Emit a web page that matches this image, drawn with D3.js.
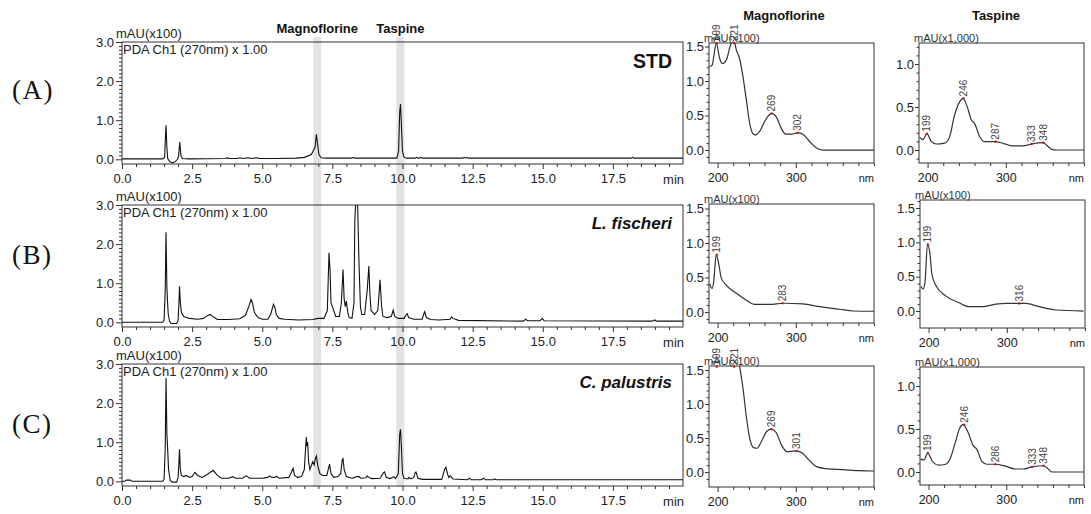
<!DOCTYPE html>
<html><head><meta charset="utf-8">
<script src="https://cdn.jsdelivr.net/npm/d3@7"></script>
<style>body{margin:0;background:#fff}svg{display:block}</style>
</head><body>
<svg id="c" width="1091" height="514"></svg>
<script>
// ---------------- DATA ----------------
const chromTicks = [0, 2.5, 5, 7.5, 10, 12.5, 15, 17.5];
const chromYTicks = [0, 1, 2, 3];
const bandNames = ["Magnoflorine", "Taspine"];
const bandRanges = [[6.82, 7.1], [9.78, 10.07]];
const panelLetters = ["(A)", "(B)", "(C)"];
const sampleNames = ["STD", "L. fischeri", "C. palustris"];

const stdTrace = [[0,0.01],[1.45,0.01],[1.52,0.05],[1.55,0.6],[1.57,0.87],[1.6,0.3],[1.63,0.02],[1.7,-0.06],[1.8,-0.09],[1.9,-0.06],[1.98,0],[2.02,0.1],[2.06,0.44],[2.1,0.1],[2.15,0.02],[2.4,0.01],[3.7,0.02],[3.75,0.04],[3.8,0.02],[4.1,0.02],[4.2,0.04],[4.3,0.02],[4.5,0.04],[4.6,0.02],[4.8,0.04],[4.9,0.02],[5.5,0.02],[6.2,0.03],[6.5,0.05],[6.75,0.12],[6.88,0.3],[6.93,0.64],[6.97,0.4],[7.02,0.12],[7.1,0.04],[7.3,0.03],[8.2,0.03],[8.24,0.05],[8.3,0.03],[9.8,0.03],[9.86,0.2],[9.9,1.2],[9.93,1.41],[9.96,0.9],[10.0,0.2],[10.05,0.06],[10.15,0.03],[10.45,0.03],[10.5,0.05],[10.55,0.03],[10.6,0.03],[10.65,0.05],[10.7,0.03],[12.15,0.03],[12.2,0.05],[12.25,0.03],[12.3,0.05],[12.35,0.03],[18.15,0.03],[18.2,0.05],[18.25,0.03],[20,0.03]];

const fischeriTrace = [[0,0.0],[1.45,0.0],[1.5,0.05],[1.54,0.8],[1.57,2.3],[1.6,0.9],[1.62,0.56],[1.65,0.2],[1.7,0.02],[1.75,-0.03],[1.95,-0.03],[2.0,0.05],[2.03,0.5],[2.05,0.92],[2.08,0.5],[2.12,0.25],[2.2,0.15],[2.4,0.1],[2.7,0.08],[2.9,0.1],[3.05,0.17],[3.14,0.2],[3.25,0.14],[3.4,0.07],[3.8,0.07],[4.2,0.09],[4.4,0.18],[4.52,0.4],[4.6,0.58],[4.65,0.5],[4.72,0.25],[4.85,0.12],[5.0,0.08],[5.2,0.08],[5.3,0.2],[5.4,0.46],[5.45,0.38],[5.5,0.2],[5.6,0.1],[5.8,0.08],[6.3,0.06],[6.8,0.07],[7.0,0.1],[7.2,0.1],[7.32,0.3],[7.38,1.78],[7.42,1.3],[7.45,0.5],[7.5,0.4],[7.55,0.3],[7.62,0.15],[7.75,0.15],[7.82,0.5],[7.88,1.35],[7.92,0.6],[7.96,0.4],[8.0,0.54],[8.05,0.25],[8.1,0.12],[8.2,0.1],[8.27,0.5],[8.3,2.6],[8.34,3.2],[8.4,3.0],[8.45,1.5],[8.5,0.4],[8.55,0.2],[8.65,0.2],[8.74,0.8],[8.8,1.44],[8.84,0.7],[8.88,0.3],[8.95,0.25],[9.0,0.2],[9.12,0.3],[9.2,1.09],[9.25,0.45],[9.3,0.15],[9.45,0.12],[9.6,0.15],[9.67,0.31],[9.72,0.15],[9.85,0.1],[10.05,0.1],[10.12,0.18],[10.17,0.22],[10.22,0.12],[10.4,0.08],[10.7,0.08],[10.75,0.2],[10.79,0.27],[10.85,0.12],[11.0,0.07],[11.3,0.06],[11.7,0.08],[11.75,0.14],[11.8,0.1],[12.0,0.05],[14.3,0.03],[14.4,0.08],[14.45,0.04],[14.9,0.04],[14.99,0.1],[15.05,0.04],[18.9,0.03],[19.0,0.06],[19.05,0.03],[20,0.03]];

const palustrisTrace = [[0,0.0],[0.1,0.0],[0.15,0.03],[0.3,0.03],[0.35,0.0],[1.45,0.0],[1.5,0.05],[1.54,0.8],[1.57,2.64],[1.6,1.2],[1.62,0.95],[1.66,0.3],[1.72,0.02],[1.8,-0.02],[1.95,-0.02],[2.0,0.1],[2.03,0.5],[2.05,0.82],[2.08,0.3],[2.12,0.15],[2.2,0.12],[2.3,0.15],[2.4,0.1],[2.5,0.12],[2.6,0.23],[2.7,0.15],[2.85,0.1],[3.05,0.18],[3.25,0.28],[3.4,0.15],[3.55,0.08],[3.8,0.08],[3.95,0.12],[4.05,0.08],[4.3,0.08],[4.43,0.14],[4.55,0.08],[5.0,0.08],[5.2,0.1],[5.26,0.14],[5.35,0.1],[5.45,0.1],[5.5,0.13],[5.6,0.08],[5.95,0.1],[6.05,0.25],[6.1,0.33],[6.15,0.15],[6.25,0.1],[6.4,0.12],[6.5,0.3],[6.55,0.9],[6.57,1.13],[6.59,0.9],[6.62,1.0],[6.65,0.5],[6.7,0.3],[6.75,0.4],[6.8,0.5],[6.85,0.42],[6.9,0.6],[6.93,0.65],[6.98,0.4],[7.05,0.2],[7.15,0.15],[7.3,0.15],[7.37,0.35],[7.4,0.44],[7.45,0.2],[7.55,0.1],[7.7,0.12],[7.8,0.2],[7.85,0.55],[7.88,0.58],[7.92,0.3],[8.0,0.12],[8.2,0.08],[8.3,0.1],[8.36,0.12],[8.45,0.12],[8.5,0.08],[8.7,0.09],[8.74,0.14],[8.8,0.1],[8.9,0.07],[9.2,0.08],[9.32,0.22],[9.36,0.24],[9.42,0.1],[9.55,0.07],[9.65,0.1],[9.69,0.12],[9.75,0.07],[9.85,0.2],[9.9,1.2],[9.93,1.33],[9.96,0.9],[10.0,0.2],[10.05,0.08],[10.2,0.06],[10.23,0.1],[10.3,0.06],[10.4,0.1],[10.45,0.22],[10.48,0.24],[10.55,0.08],[10.7,0.05],[11.4,0.05],[11.5,0.3],[11.55,0.36],[11.6,0.2],[11.65,0.1],[11.7,0.14],[11.8,0.06],[12.3,0.04],[12.4,0.08],[12.45,0.04],[12.8,0.04],[12.9,0.08],[12.95,0.04],[13.25,0.04],[13.29,0.06],[13.35,0.04],[20,0.04]];

const specTitles = ["Magnoflorine", "Taspine"];
const specXTicks = [200, 300];

const magANm  = [189.7,193,198.3,202.6,206,211,217.5,221,224,228,232.5,236.8,241,245,248.7,253.8,260,268.8,275,281.6,287,294.5,303,309,318,326.5,335,400];
const magAVal = [1.21,1.23,1.55,1.33,1.25,1.30,1.55,1.58,1.45,1.33,1.06,0.72,0.39,0.24,0.22,0.27,0.41,0.53,0.48,0.31,0.23,0.23,0.25,0.23,0.12,0.03,0.0,0.0];
const magBNm  = [189.7,193,195,198.3,201.7,204.7,211,224,236.8,247,266.7,283.8,309,330.8,356,373.5,400];
const magBVal = [0.41,0.34,0.44,0.83,0.68,0.49,0.39,0.27,0.17,0.11,0.11,0.126,0.116,0.077,0.039,0.014,0.01];
const magCNm  = [189,200,210,220,228,232.5,236.8,241,246,250.4,256,263,268.8,275,281.6,288.8,298.7,307,315.8,326.5,339,360.7,382,400];
const magCVal = [1.8,2.0,1.9,2.0,1.57,1.23,0.81,0.50,0.36,0.35,0.45,0.60,0.63,0.58,0.40,0.30,0.31,0.29,0.19,0.08,0.05,0.035,0.02,0.015];
const tasANm  = [189.7,194,199,204.7,211,221.8,228,234.6,241,245.3,250.4,256,260,266.7,273,286,296.6,309,322,333,348,352,358.6,365,400];
const tasAVal = [0.15,0.12,0.19,0.10,0.07,0.08,0.15,0.41,0.56,0.60,0.51,0.35,0.31,0.155,0.097,0.097,0.078,0.047,0.047,0.07,0.085,0.058,0.008,0,0];
const tasBNm  = [190,193,195.5,198.5,201.7,204,209,221.9,239,251.8,268.8,285.9,300,314.9,324.4,341.5,362.8,398];
const tasBVal = [0.36,0.32,0.43,0.97,0.84,0.55,0.38,0.22,0.12,0.063,0.063,0.10,0.11,0.11,0.11,0.063,0.015,0];
const tasCNm  = [189.7,194,199,204.7,213,221.8,228,234.6,240,244.4,250.4,257.3,262.4,268.8,275,286,296.6,311.5,322,333,348,353,358.6,400];
const tasCVal = [0.15,0.14,0.22,0.128,0.08,0.09,0.16,0.35,0.51,0.55,0.47,0.31,0.26,0.12,0.09,0.09,0.075,0.035,0.035,0.06,0.073,0.043,0,0];

const magAPeakNm = [199,221,269,302], magAPeakVal = [1.55,1.55,0.53,0.25];
const magBPeakNm = [199,283],         magBPeakVal = [0.83,0.126];
const magCPeakNm = [199,221,269,301], magCPeakVal = [1.55,1.55,0.63,0.31];
const tasAPeakNm = [199,246,287,333,348], tasAPeakVal = [0.19,0.60,0.097,0.07,0.085];
const tasBPeakNm = [199,316],         tasBPeakVal = [0.97,0.11];
const tasCPeakNm = [199,246,286,333,348], tasCPeakVal = [0.22,0.55,0.09,0.06,0.073];

const unitLabels = ["mAU(x100)", "mAU(x1,000)"];
const chromChannel = "PDA Ch1 (270nm) x 1.00";

// ---------------- DRAW ----------------
const svg = d3.select("#c");
const SANS = "'Liberation Sans', Arial, sans-serif";
const INK = "#222";
const defs = svg.append("defs");
let clipN = 0;

const CL = 122, CR = 683;
const xC = d3.scaleLinear().domain([0, 20]).range([CL, CR]);

// grey bands
bandRanges.forEach((b, i) => {
  svg.append("rect").attr("x", xC(b[0])).attr("width", xC(b[1]) - xC(b[0]))
    .attr("y", 37).attr("height", 450).attr("fill", "#e3e3e3");
  svg.append("text").attr("x", xC((b[0] + b[1]) / 2)).attr("y", 33)
    .attr("text-anchor", "middle").attr("font-family", SANS).attr("font-weight", "bold")
    .attr("font-size", 13).attr("fill", "#111").text(bandNames[i]);
});

function styleAxis(g, fs) {
  g.select(".domain").remove();
  g.selectAll("line").attr("stroke", "#333");
  g.selectAll("text").attr("font-family", SANS).attr("font-size", fs).attr("fill", INK);
}

function chrom(trace, top, bottom, letterIdx) {
  const y = d3.scaleLinear().domain([-0.12, 3.0]).range([bottom, top]);
  const id = "clip" + (clipN++);
  defs.append("clipPath").attr("id", id).append("rect")
    .attr("x", CL).attr("y", top).attr("width", CR - CL).attr("height", bottom - top);
  svg.append("path").datum(trace).attr("clip-path", `url(#${id})`)
    .attr("fill", "none").attr("stroke", "#111").attr("stroke-width", 1.1)
    .attr("d", d3.line().x(d => xC(d[0])).y(d => y(d[1])));
  const gx = svg.append("g").attr("transform", `translate(0,${bottom})`);
  gx.call(d3.axisBottom(xC).tickValues(chromTicks).tickSize(5).tickPadding(5).tickFormat(d3.format(".1f")));
  styleAxis(gx, 13);
  const gxm = svg.append("g").attr("transform", `translate(0,${bottom})`);
  gxm.call(d3.axisBottom(xC).tickValues(d3.range(0, 20.01, 0.5).filter(v => v % 2.5 !== 0)).tickSize(3).tickFormat(""));
  styleAxis(gxm, 13);
  svg.append("text").attr("x", CR + 1).attr("y", bottom + 19.5).attr("text-anchor", "end")
    .attr("font-family", SANS).attr("font-size", 13).attr("fill", INK).text("min");
  const gy = svg.append("g").attr("transform", `translate(${CL},0)`);
  gy.call(d3.axisLeft(y).tickValues(chromYTicks).tickSize(6).tickPadding(2).tickFormat(d3.format(".1f")));
  styleAxis(gy, 13);
  const gym = svg.append("g").attr("transform", `translate(${CL},0)`);
  gym.call(d3.axisLeft(y).tickValues(d3.range(0, 3.001, 0.1).filter(v => Math.abs(v - Math.round(v)) > 0.01)).tickSize(3).tickFormat(""));
  styleAxis(gym, 13);
  svg.append("rect").attr("x", CL).attr("y", top).attr("width", CR - CL).attr("height", bottom - top)
    .attr("fill", "none").attr("stroke", "#333").attr("stroke-width", 1);
  svg.append("text").attr("x", 116).attr("y", top - 4.5).attr("font-family", SANS).attr("font-size", 13)
    .attr("fill", INK).text(unitLabels[0]);
  svg.append("text").attr("x", 123).attr("y", top + 11.5).attr("font-family", SANS).attr("font-size", 13)
    .attr("fill", INK).text(chromChannel);
  const sn = svg.append("text").attr("x", 672).attr("text-anchor", "end")
    .attr("font-family", SANS).attr("font-weight", "bold").attr("fill", "#111")
    .text(sampleNames[letterIdx]);
  if (letterIdx === 0) sn.attr("y", top + 26).attr("font-size", 19.5);
  else sn.attr("y", top + 24).attr("font-size", 17).attr("font-style", "italic");
  svg.append("text").attr("x", 12).attr("y", [99, 264, 433][letterIdx])
    .attr("font-family", "'Liberation Serif', 'DejaVu Serif', serif").attr("font-size", 27)
    .attr("letter-spacing", 1.5).attr("fill", "#111").text(panelLetters[letterIdx]);
}

chrom(stdTrace, 42, 164, 0);
chrom(fischeriTrace, 205, 327, 1);
chrom(palustrisTrace, 364, 486, 2);

function spectrum(nm, val, pkNm, pkVal, left, right, top, bottom, yDom, unit, yTickMax) {
  const x = d3.scaleLinear().domain([189, 400]).range([left, right]);
  const y = d3.scaleLinear().domain(yDom).range([bottom, top]);
  const id = "clip" + (clipN++);
  defs.append("clipPath").attr("id", id).append("rect")
    .attr("x", left).attr("y", top).attr("width", right - left).attr("height", bottom - top);
  svg.append("path").datum(d3.zip(nm, val)).attr("clip-path", `url(#${id})`)
    .attr("fill", "none").attr("stroke", "#333").attr("stroke-width", 1.2)
    .attr("d", d3.line().curve(d3.curveMonotoneX).x(d => x(d[0])).y(d => y(d[1])));
  const gx = svg.append("g").attr("transform", `translate(0,${bottom})`);
  gx.call(d3.axisBottom(x).tickValues(specXTicks).tickSize(5).tickPadding(5).tickFormat(d3.format("d")));
  styleAxis(gx, 12.5);
  const gxm = svg.append("g").attr("transform", `translate(0,${bottom})`);
  gxm.call(d3.axisBottom(x).tickValues(d3.range(220, 401, 20).filter(v => v !== 300)).tickSize(3).tickFormat(""));
  styleAxis(gxm, 12);
  svg.append("text").attr("x", right).attr("y", bottom + 19).attr("text-anchor", "end")
    .attr("font-family", SANS).attr("font-size", 11).attr("fill", INK).text("nm");
  const gy = svg.append("g").attr("transform", `translate(${left},0)`);
  gy.call(d3.axisLeft(y).tickValues(d3.range(0, yTickMax + 0.001, 0.5)).tickSize(4).tickPadding(1).tickFormat(d3.format(".1f")));
  styleAxis(gy, 13);
  const gym = svg.append("g").attr("transform", `translate(${left},0)`);
  gym.call(d3.axisLeft(y).tickValues(d3.range(-0.1, yDom[1], 0.1).filter(v => Math.abs(v * 2 - Math.round(v * 2)) > 0.01)).tickSize(2.5).tickFormat(""));
  styleAxis(gym, 12);
  svg.append("rect").attr("x", left).attr("y", top).attr("width", right - left).attr("height", bottom - top)
    .attr("fill", "none").attr("stroke", "#333").attr("stroke-width", 1);
  svg.append("text").attr("x", left - 5).attr("y", top - 1.5).attr("font-family", SANS).attr("font-size", 11)
    .attr("fill", "#333").text(unit);
  pkNm.forEach((p, i) => {
    const px = x(p), py = y(pkVal[i]);
    svg.append("rect").attr("x", px - 1).attr("y", py - 1).attr("width", 2).attr("height", 2).attr("fill", "#e00000");
    svg.append("text").attr("transform", `translate(${px + 3.6},${py - 2}) rotate(-90)`)
      .attr("font-family", SANS).attr("font-size", 10).attr("fill", "#444").text(String(p));
  });
}

svg.append("text").attr("x", 784).attr("y", 20).attr("text-anchor", "middle").attr("font-family", SANS)
  .attr("font-weight", "bold").attr("font-size", 13).attr("fill", "#111").text(specTitles[0]);
svg.append("text").attr("x", 996).attr("y", 20).attr("text-anchor", "middle").attr("font-family", SANS)
  .attr("font-weight", "bold").attr("font-size", 13).attr("fill", "#111").text(specTitles[1]);

spectrum(magANm, magAVal, magAPeakNm, magAPeakVal, 709, 874, 43, 163, [-0.188, 1.551], unitLabels[0], 1.5);
spectrum(tasANm, tasAVal, tasAPeakNm, tasAPeakVal, 919, 1084, 43, 163, [-0.151, 1.244], unitLabels[1], 1.0);
spectrum(magBNm, magBVal, magBPeakNm, magBPeakVal, 709, 874, 204, 323, [-0.16, 1.565], unitLabels[0], 1.5);
spectrum(tasBNm, tasBVal, tasBPeakNm, tasBPeakVal, 920, 1085, 200, 328, [-0.247, 1.616], unitLabels[0], 1.5);
spectrum(magCNm, magCVal, magCPeakNm, magCPeakVal, 709, 874, 366, 487, [-0.22, 1.56], unitLabels[0], 1.5);
spectrum(tasCNm, tasCVal, tasCPeakNm, tasCPeakVal, 920, 1084, 367, 485, [-0.151, 1.221], unitLabels[1], 1.0);
</script>
</body></html>
